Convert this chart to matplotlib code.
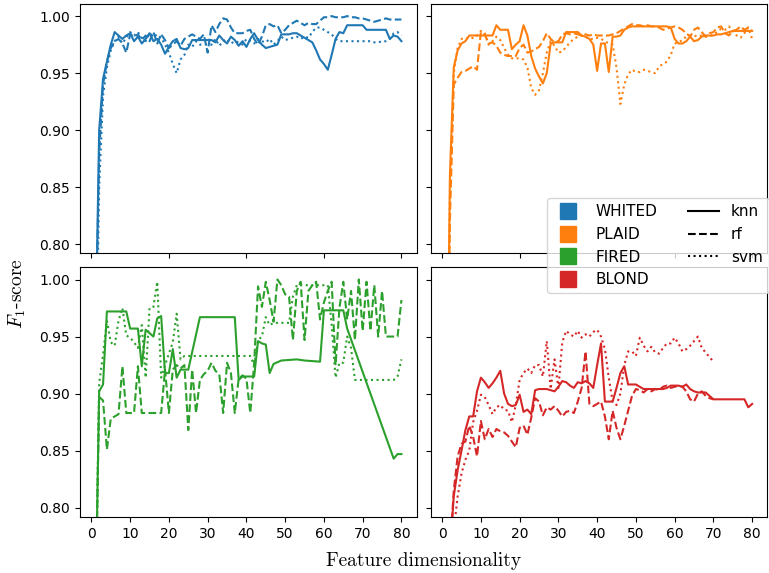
import matplotlib
matplotlib.use("Agg")
import matplotlib.pyplot as plt
from matplotlib.lines import Line2D

plt.rcParams['mathtext.fontset'] = 'cm'

DIMS = list(range(1, 81))

datasets = ["WHITED", "PLAID", "FIRED", "BLOND"]
classifiers = ["knn", "rf", "svm"]
colors = ["#1f77b4", "#ff7f0e", "#2ca02c", "#d62728"]
styles = ["-", "--", ":"]

# ---------------- WHITED ----------------
whited_knn_x = DIMS
whited_knn = [0.70, 0.90, 0.945, 0.96, 0.975, 0.986, 0.983, 0.980, 0.983, 0.985,
              0.978, 0.982, 0.976, 0.980, 0.985, 0.978, 0.980, 0.975, 0.967, 0.973,
              0.978, 0.980, 0.972, 0.971, 0.972, 0.979, 0.979, 0.979, 0.979, 0.979,
              0.979, 0.977, 0.983, 0.979, 0.976, 0.982, 0.979, 0.974, 0.978, 0.973,
              0.980, 0.985, 0.979, 0.975, 0.972, 0.973, 0.974, 0.975, 0.984, 0.984,
              0.984, 0.985, 0.985, 0.983, 0.981, 0.979, 0.977, 0.970, 0.962, 0.958,
              0.953, 0.966, 0.980, 0.986, 0.985, 0.992, 0.992, 0.992, 0.992, 0.992,
              0.988, 0.988, 0.988, 0.988, 0.988, 0.988, 0.980, 0.983, 0.982, 0.978]
whited_rf_x = DIMS
whited_rf = [0.70, 0.88, 0.94, 0.96, 0.972, 0.978, 0.980, 0.976, 0.968, 0.984,
             0.982, 0.984, 0.979, 0.983, 0.978, 0.986, 0.976, 0.984, 0.979, 0.972,
             0.975, 0.978, 0.974, 0.980, 0.982, 0.984, 0.982, 0.980, 0.984, 0.968,
             0.992, 0.986, 0.993, 0.998, 0.997, 0.990, 0.985, 0.985, 0.985, 0.987,
             0.988, 0.980, 0.975, 0.982, 0.992, 0.993, 0.991, 0.992, 0.985, 0.988,
             0.992, 0.994, 0.996, 0.994, 0.992, 0.994, 0.993, 0.993, 0.996, 0.999,
             0.999, 1.000, 0.999, 0.999, 0.999, 1.000, 0.999, 0.999, 0.998, 0.998,
             0.997, 0.996, 0.995, 0.996, 0.997, 0.998, 0.997, 0.997, 0.997, 0.997]
whited_svm_x = DIMS
whited_svm = [0.65, 0.85, 0.93, 0.955, 0.970, 0.978, 0.982, 0.976, 0.981, 0.986,
              0.983, 0.986, 0.981, 0.978, 0.985, 0.982, 0.984, 0.981, 0.975, 0.968,
              0.958, 0.950, 0.962, 0.966, 0.975, 0.973, 0.978, 0.975, 0.975, 0.975,
              0.975, 0.980, 0.974, 0.978, 0.980, 0.976, 0.978, 0.977, 0.975, 0.980,
              0.978, 0.976, 0.980, 0.978, 0.977, 0.980, 0.975, 0.978, 0.982, 0.979,
              0.980, 0.981, 0.982, 0.980, 0.982, 0.981, 0.986, 0.990, 0.990, 0.988,
              0.986, 0.984, 0.980, 0.978, 0.978, 0.978, 0.978, 0.978, 0.978, 0.978,
              0.978, 0.978, 0.977, 0.977, 0.978, 0.978, 0.980, 0.985, 0.986, 0.983]

# ---------------- PLAID ----------------
plaid_knn_x = DIMS
plaid_knn = [0.55, 0.86, 0.955, 0.970, 0.976, 0.978, 0.983, 0.983, 0.983, 0.983,
             0.983, 0.983, 0.983, 0.992, 0.988, 0.988, 0.988, 0.971, 0.975, 0.978,
             0.992, 0.983, 0.965, 0.954, 0.947, 0.941, 0.950, 0.976, 0.977, 0.977,
             0.977, 0.986, 0.986, 0.986, 0.986, 0.983, 0.982, 0.980, 0.975, 0.952,
             0.976, 0.976, 0.951, 0.982, 0.982, 0.983, 0.988, 0.990, 0.991, 0.991,
             0.991, 0.991, 0.991, 0.991, 0.991, 0.991, 0.991, 0.991, 0.990, 0.980,
             0.976, 0.976, 0.978, 0.982, 0.978, 0.979, 0.982, 0.983, 0.983, 0.983,
             0.984, 0.984, 0.985, 0.986, 0.987, 0.987, 0.987, 0.987, 0.987, 0.987]
plaid_rf_x = DIMS
plaid_rf = [0.55, 0.82, 0.940, 0.946, 0.951, 0.952, 0.954, 0.956, 0.953, 0.986,
            0.984, 0.976, 0.977, 0.974, 0.968, 0.966, 0.965, 0.965, 0.965, 0.972,
            0.975, 0.968, 0.969, 0.971, 0.973, 0.978, 0.985, 0.980, 0.977, 0.978,
            0.984, 0.985, 0.984, 0.985, 0.984, 0.983, 0.984, 0.983, 0.984, 0.983,
            0.983, 0.983, 0.983, 0.984, 0.985, 0.987, 0.989, 0.991, 0.993, 0.992,
            0.992, 0.991, 0.992, 0.991, 0.991, 0.990, 0.988, 0.989, 0.990, 0.991,
            0.990, 0.988, 0.985, 0.982, 0.988, 0.990, 0.986, 0.982, 0.985, 0.986,
            0.990, 0.991, 0.985, 0.983, 0.987, 0.988, 0.991, 0.988, 0.990, 0.987]
plaid_svm_x = DIMS
plaid_svm = [0.50, 0.84, 0.950, 0.972, 0.980, 0.981, 0.980, 0.981, 0.983, 0.987,
             0.985, 0.975, 0.978, 0.982, 0.979, 0.972, 0.966, 0.963, 0.963, 0.963,
             0.962, 0.955, 0.937, 0.931, 0.935, 0.950, 0.968, 0.978, 0.974, 0.968,
             0.969, 0.973, 0.977, 0.980, 0.982, 0.983, 0.982, 0.980, 0.980, 0.981,
             0.980, 0.978, 0.976, 0.975, 0.955, 0.923, 0.940, 0.949, 0.953, 0.951,
             0.951, 0.953, 0.952, 0.951, 0.950, 0.956, 0.958, 0.960, 0.966, 0.976,
             0.977, 0.979, 0.982, 0.983, 0.983, 0.982, 0.983, 0.982, 0.982, 0.984,
             0.986, 0.989, 0.988, 0.991, 0.987, 0.983, 0.981, 0.985, 0.990, 0.980]

# ---------------- FIRED ----------------
fired_knn_x = [1, 2, 3, 4, 9, 10, 12, 13, 14, 15, 16, 17, 18, 19, 20, 21, 22, 23,
               25, 28, 37, 38, 39, 42, 43, 44, 45, 46, 47, 49, 53, 55, 59, 60,
               65, 66, 78, 79, 80]
fired_knn = [0.70, 0.902, 0.908, 0.972, 0.972, 0.957, 0.957, 0.924, 0.956, 0.953,
             0.950, 0.966, 0.968, 0.918, 0.918, 0.939, 0.914, 0.921, 0.921, 0.967,
             0.967, 0.912, 0.915, 0.915, 0.946, 0.944, 0.943, 0.918, 0.926, 0.929,
             0.930, 0.929, 0.928, 0.973, 0.973, 0.957, 0.843, 0.847, 0.847]
fired_rf_x = DIMS
fired_rf = [0.70, 0.897, 0.894, 0.851, 0.878, 0.880, 0.882, 0.924, 0.883, 0.883,
            0.883, 0.924, 0.883, 0.883, 0.883, 0.883, 0.883, 0.883, 0.921, 0.883,
            0.921, 0.925, 0.922, 0.925, 0.868, 0.921, 0.883, 0.912, 0.917, 0.920,
            0.927, 0.920, 0.917, 0.883, 0.927, 0.918, 0.883, 0.913, 0.916, 0.913,
            0.883, 0.927, 0.994, 0.976, 0.998, 0.982, 0.963, 1.000, 0.995, 0.987,
            0.985, 0.947, 0.990, 0.998, 0.947, 0.990, 0.995, 0.998, 0.965, 0.980,
            0.990, 0.998, 0.925, 0.975, 0.998, 0.965, 0.990, 0.947, 1.000, 0.955,
            0.998, 0.955, 0.995, 0.950, 0.990, 0.950, 0.950, 0.950, 0.950, 0.982]
fired_svm_x = DIMS
fired_svm = [0.70, 0.909, 0.934, 0.964, 0.945, 0.942, 0.964, 0.975, 0.951, 0.949,
             0.945, 0.940, 0.960, 0.914, 0.975, 0.976, 0.998, 0.914, 0.925, 0.935,
             0.945, 0.970, 0.930, 0.933, 0.933, 0.933, 0.933, 0.933, 0.933, 0.933,
             0.933, 0.933, 0.933, 0.933, 0.933, 0.933, 0.933, 0.933, 0.933, 0.933,
             0.933, 0.925, 0.947, 0.950, 0.967, 0.960, 0.962, 0.962, 0.962, 0.962,
             0.962, 0.985, 0.995, 0.995, 0.995, 0.995, 0.995, 0.995, 0.995, 0.995,
             0.995, 0.960, 0.914, 0.927, 0.927, 0.950, 0.940, 0.912, 0.912, 0.912,
             0.912, 0.912, 0.912, 0.912, 0.912, 0.912, 0.912, 0.912, 0.915, 0.930]

# ---------------- BLOND ----------------
blond_knn_x = list(range(2, 81))
blond_knn = [0.76, 0.810, 0.833, 0.850, 0.868, 0.880, 0.880, 0.902, 0.914,
             0.910, 0.905, 0.909, 0.914, 0.920, 0.900, 0.891, 0.889, 0.890, 0.899,
             0.884, 0.886, 0.882, 0.903, 0.904, 0.904, 0.904, 0.903, 0.902, 0.906,
             0.911, 0.910, 0.907, 0.905, 0.910, 0.909, 0.911, 0.909, 0.905, 0.925,
             0.944, 0.893, 0.893, 0.893, 0.905, 0.918, 0.924, 0.908, 0.908, 0.908,
             0.906, 0.904, 0.904, 0.904, 0.904, 0.904, 0.904, 0.905, 0.907, 0.907,
             0.907, 0.906, 0.908, 0.904, 0.902, 0.901, 0.901, 0.901, 0.898, 0.895,
             0.895, 0.895, 0.895, 0.895, 0.895, 0.895, 0.895, 0.895, 0.888, 0.891]
blond_rf_x = list(range(2, 71))
blond_rf = [0.76, 0.815, 0.845, 0.856, 0.858, 0.872, 0.862, 0.845, 0.876,
            0.860, 0.869, 0.862, 0.869, 0.867, 0.866, 0.863, 0.858, 0.853, 0.870,
            0.872, 0.864, 0.879, 0.896, 0.893, 0.881, 0.888, 0.886, 0.889, 0.885,
            0.880, 0.884, 0.885, 0.883, 0.893, 0.905, 0.937, 0.891, 0.889, 0.891,
            0.893, 0.880, 0.860, 0.885, 0.870, 0.860, 0.872, 0.885, 0.898, 0.904,
            0.903, 0.901, 0.904, 0.902, 0.904, 0.903, 0.906, 0.907, 0.905, 0.906,
            0.907, 0.906, 0.902, 0.895, 0.893, 0.900, 0.902, 0.898, 0.896, 0.895]
blond_svm_x = list(range(3, 71))
blond_svm = [0.78, 0.810, 0.830, 0.842, 0.850, 0.875, 0.885, 0.899,
             0.897, 0.890, 0.882, 0.888, 0.890, 0.886, 0.885, 0.875, 0.890, 0.912,
             0.918, 0.922, 0.918, 0.925, 0.925, 0.915, 0.946, 0.904, 0.930, 0.905,
             0.945, 0.955, 0.952, 0.950, 0.955, 0.949, 0.952, 0.950, 0.954, 0.956,
             0.950, 0.939, 0.914, 0.893, 0.890, 0.900, 0.925, 0.937, 0.937, 0.933,
             0.949, 0.942, 0.937, 0.941, 0.936, 0.935, 0.940, 0.944, 0.944, 0.949,
             0.944, 0.937, 0.939, 0.942, 0.946, 0.950, 0.940, 0.936, 0.932, 0.928]

series = {
    "WHITED": [(whited_knn_x, whited_knn), (whited_rf_x, whited_rf), (whited_svm_x, whited_svm)],
    "PLAID": [(plaid_knn_x, plaid_knn), (plaid_rf_x, plaid_rf), (plaid_svm_x, plaid_svm)],
    "FIRED": [(fired_knn_x, fired_knn), (fired_rf_x, fired_rf), (fired_svm_x, fired_svm)],
    "BLOND": [(blond_knn_x, blond_knn), (blond_rf_x, blond_rf), (blond_svm_x, blond_svm)],
}

yticks = [0.80, 0.85, 0.90, 0.95, 1.00]
ytick_labels = ["0.80", "0.85", "0.90", "0.95", "1.00"]
xticks_bottom = [0, 10, 20, 30, 40, 50, 60, 70, 80]
xticks_top = [0, 20, 40, 60, 80]

fig = plt.figure(figsize=(7.69, 5.73), dpi=100)
gs = fig.add_gridspec(2, 2, left=0.104, right=0.998, top=0.993, bottom=0.098,
                      wspace=0.0415, hspace=0.056)

for i, (name, color) in enumerate(zip(datasets, colors)):
    r, c = divmod(i, 2)
    ax = fig.add_subplot(gs[r, c])
    for (xs, ys), ls in zip(series[name], styles):
        ax.plot(xs, ys, color=color, linestyle=ls, linewidth=1.5)
    ax.set_xlim(-2.95, 83.95)
    ax.set_ylim(0.792, 1.0106)
    ax.set_yticks(yticks)
    if c == 0:
        ax.set_yticklabels(ytick_labels)
    else:
        ax.set_yticklabels([])
    if r == 1:
        ax.set_xticks(xticks_bottom)
        ax.set_xticklabels([str(t) for t in xticks_bottom])
    else:
        ax.set_xticks(xticks_top)
        ax.set_xticklabels([])
    ax.tick_params(labelsize=10)

handles = [Line2D([], [], marker='s', linestyle='', markersize=12, color=col) for col in colors]
handles += [Line2D([], [], color='black', linestyle=ls, linewidth=1.5) for ls in styles]
labels = datasets + classifiers
fig.legend(handles, labels, ncol=2, loc='center right', bbox_to_anchor=(1.0, 0.571),
           borderaxespad=0.0, fontsize=11)

fig.text(0.551, 0.021, "Feature dimensionality", family="cmr10", fontsize=14,
         ha="center", va="center")
fig.text(0.022, 0.487, r"$F_1$-score", family="cmr10", fontsize=14,
         rotation=90, ha="center", va="center")

fig.savefig("out.png", dpi=100)
